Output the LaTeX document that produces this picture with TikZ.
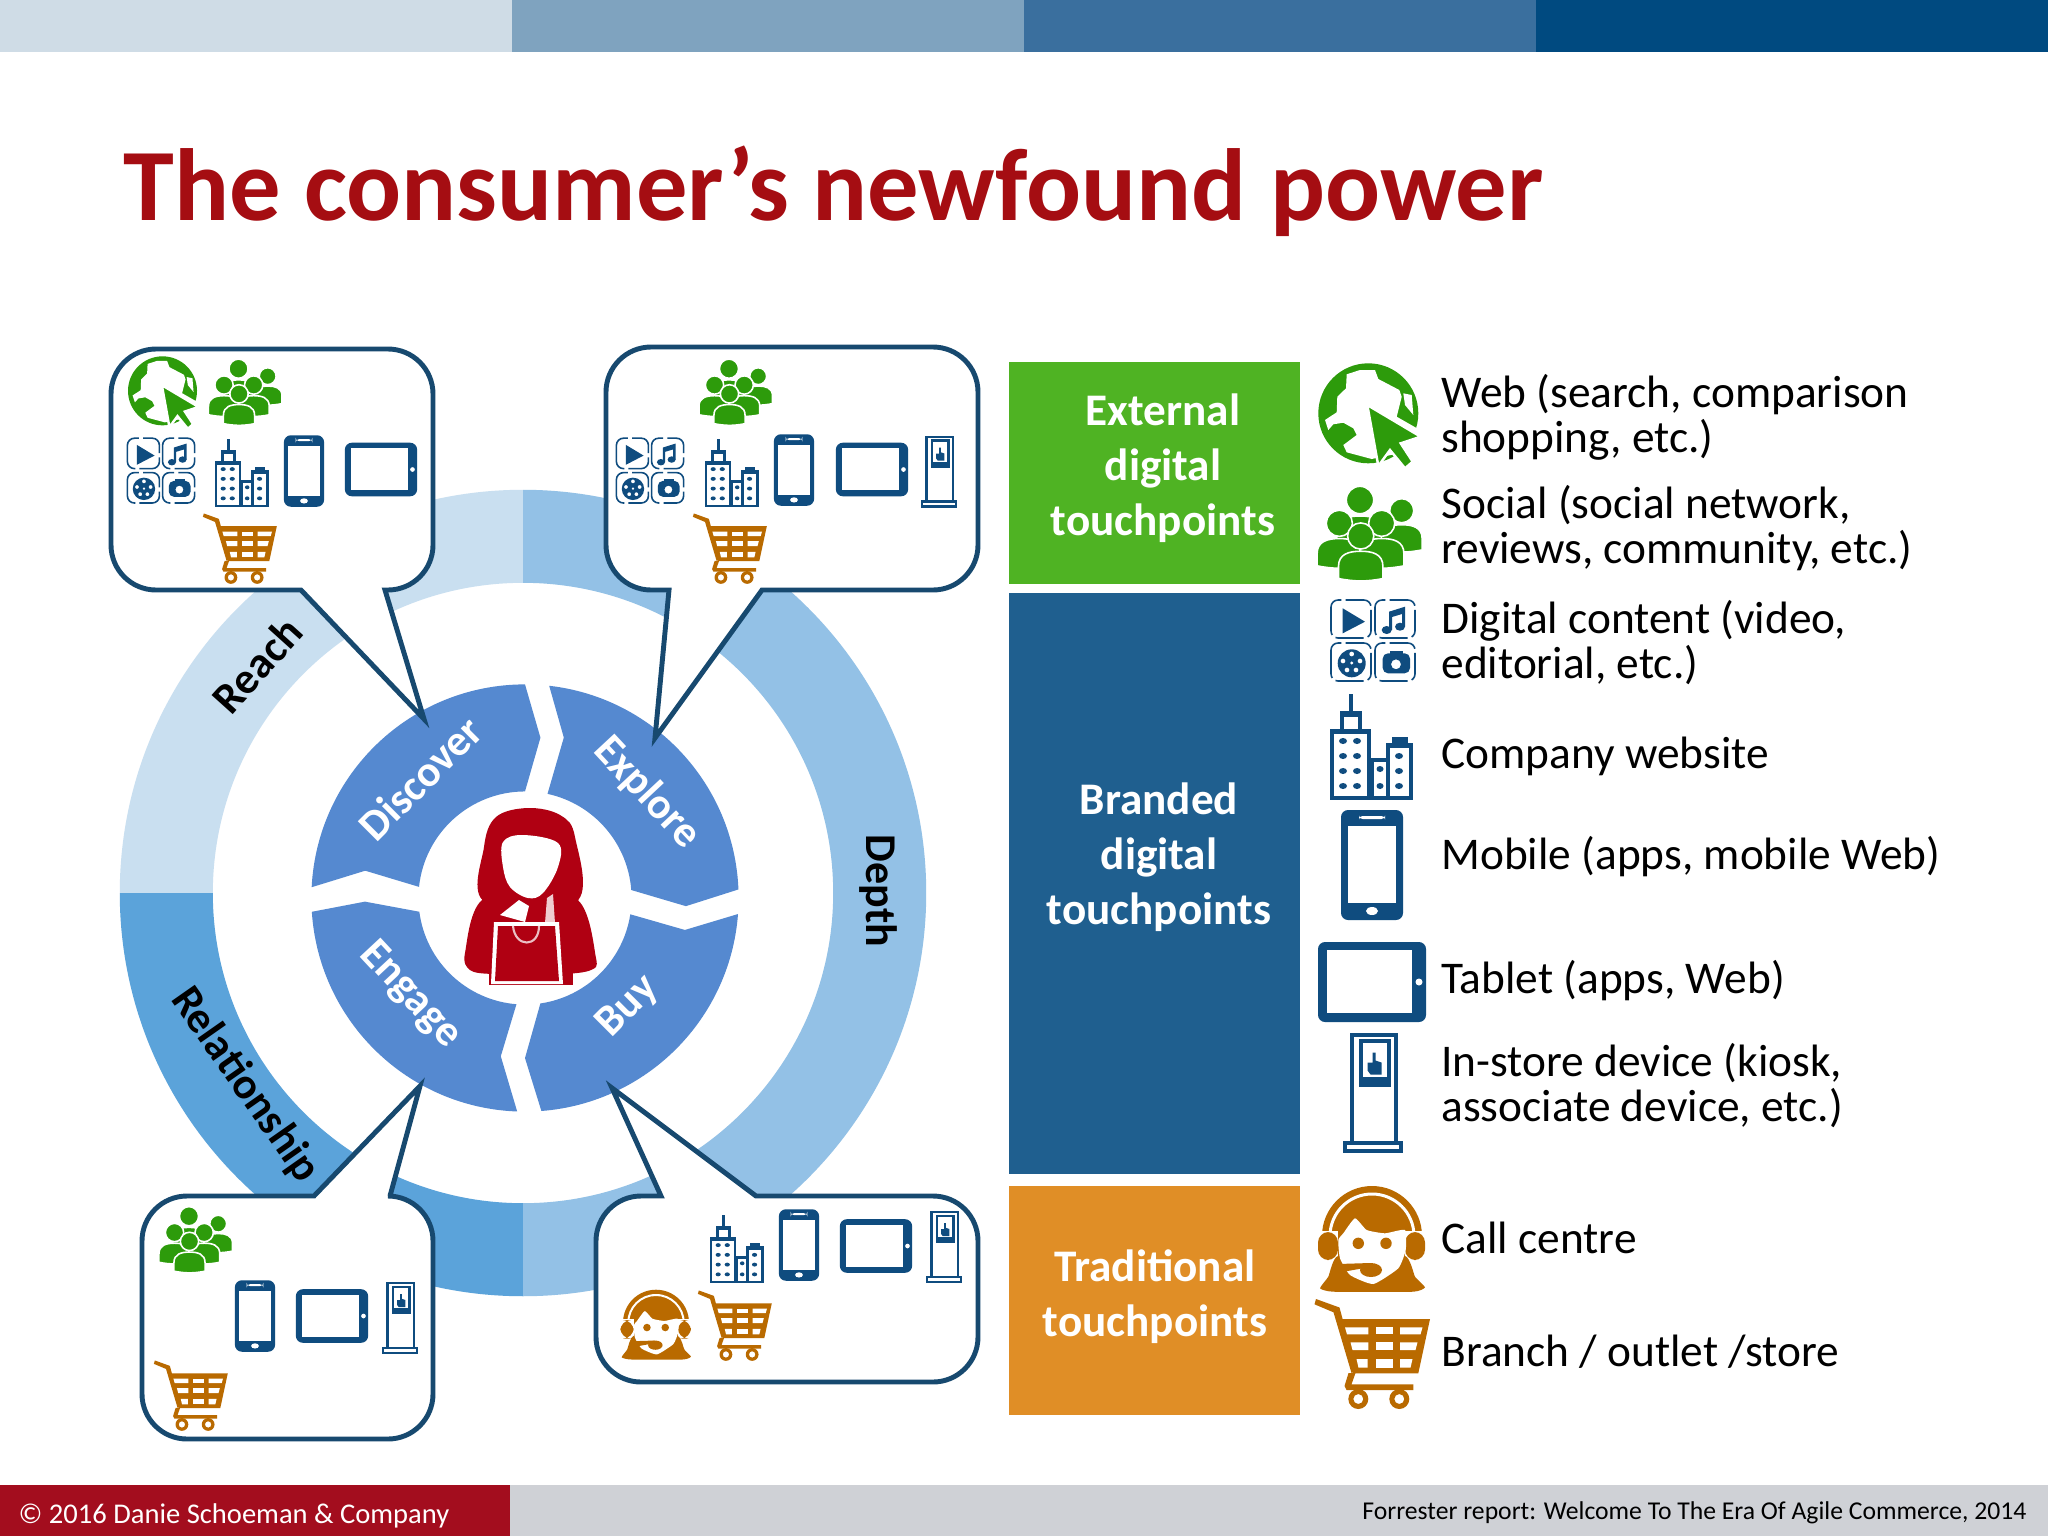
\documentclass[tikz,border=0pt]{standalone}
\usepackage{fontspec}
\usepackage{tikz}
\setmainfont{Carlito}
\definecolor{barA}{HTML}{CFDCE6}
\definecolor{barB}{HTML}{7FA3BF}
\definecolor{barC}{HTML}{3A6F9E}
\definecolor{barD}{HTML}{004A80}
\definecolor{titlered}{HTML}{A50D12}
\definecolor{footred}{HTML}{A30D1E}
\definecolor{footgrey}{HTML}{CFD1D6}
\definecolor{reachblue}{HTML}{C9DFF0}
\definecolor{depthblue}{HTML}{93C1E6}
\definecolor{relblue}{HTML}{5BA3DA}
\definecolor{segblue}{HTML}{5589D0}
\definecolor{edgeblue}{HTML}{17496F}
\definecolor{extgreen}{HTML}{4FB323}
\definecolor{brandblue}{HTML}{1F5F8F}
\definecolor{tradorange}{HTML}{E08E26}
\definecolor{icongreen}{HTML}{2D9B0B}
\definecolor{iconblue}{HTML}{0F4C7F}
\definecolor{iconorange}{HTML}{B96A00}
\definecolor{womanred}{HTML}{B00012}
\newcommand{\guy}[3]{
\begin{scope}[shift={(#1,#2)},scale=#3]
\fill[icongreen,draw=white,line width=.45pt] (-1.75,3.35) -- (-1.75,2.4) .. controls (-1.75,1.4) and (-.9,1.2) .. (0,1.2) .. controls (.9,1.2) and (1.75,1.4) .. (1.75,2.4) -- (1.75,3.35) .. controls (.5,3.6) and (-.5,3.6) .. cycle;
\fill[icongreen,draw=white,line width=.45pt] (0,0) circle (1.03);
\end{scope}
}
\tikzset{
bubble/.style={draw=edgeblue,fill=white,line width=1.4pt,line join=miter},
sidetext/.style={anchor=west,align=left,font=\fontsize{12.9}{12.8}\selectfont},
boxtext/.style={align=center,text=white,font=\bfseries\fontsize{12.85}{15.6}\selectfont},
segtext/.style={text=white,font=\bfseries\fontsize{12.4}{14}\selectfont},
ringtext/.style={text=black,font=\bfseries\fontsize{12.5}{14}\selectfont},
globe/.pic={
\fill[icongreen] (-.7,-1.7) circle (50);
\fill[white] (-22.3,-40.7) -- (-9,-45) -- (6,-45) -- (9.3,-36) -- (30.3,-25) -- (32.7,-18.3) -- (27.7,1.7) -- (51,15) -- (37.7,36.7) -- (2.7,44) -- (-22.3,37.3) -- (-25.7,30) -- (-12.3,20) -- (-15.7,13.3) -- (-25.7,7.7) -- (-35.7,9.3) -- (-40.7,15) -- (-44,5) -- (-32.3,-2.7) -- (-31.7,-18.3) -- (-23,-26.7) -- cycle;
\fill[white] (34.3,-21.7) -- (42.7,-20) -- (44.3,0) -- (36,-10) -- cycle;
\fill[icongreen,draw=white,line width=.7pt] (-1.7,-10) -- (51.7,21.7) -- (31.7,28.3) -- (43.7,46.7) -- (36,53.3) -- (21,35) -- (9.3,51) -- cycle;
},
social/.pic={
\guy{-10}{-34}{13.3}
\guy{31.7}{-23.3}{11.7}
\guy{-30.7}{-10.7}{12.7}
\guy{11.7}{-10.7}{12.7}
\guy{-9.3}{2}{12.7}
},
content/.pic={
\foreach \tx/\ty in {-22/-22,22/-22,-22/21,22/21}
\draw[iconblue,line width=.45pt,dash pattern=on 8pt off 1.2pt,rounded corners=2pt] ({\tx-20},{\ty-19}) rectangle ({\tx+20},{\ty+19});
\fill[iconblue] (-30.3,-32.7) -- (-8,-19.3) -- (-30.3,-7.7) -- cycle;
\fill[iconblue] (13.7,-11) ellipse (5 and 4) (27,-14.3) ellipse (5 and 4);
\fill[iconblue] (16,-11) -- (16,-29.3) -- (32,-34.3) -- (32,-14.3) -- (29,-14.3) -- (29,-27) -- (19,-24) -- (19,-11) -- cycle;
\fill[iconblue,even odd rule] (-21.3,22.3) circle (14) (-21.3,13) circle (2.5) (-21.3,22) circle (1.8) (-30,20) circle (2.5) (-13,20) circle (2.5) (-26,29) circle (2.5) (-17,29) circle (2.5);
\fill[iconblue,even odd rule,rounded corners=1.5pt] (9.7,12.3) rectangle (37,32.3) (23,23.3) circle (5);
\fill[iconblue] (17,10) rectangle (30,13);
},
company/.pic={
\fill[iconblue] (-23,-53) rectangle (-19,-34);
\fill[iconblue] (-32,-36) rectangle (-10,-16);
\fill[white] (-28,-30) rectangle (-14,-17);
\fill[iconblue] (-42,-18) rectangle (-1,53);
\fill[white] (-38,-13) rectangle (-5,49);
\fill[iconblue] (-2,11) rectangle (18,53);
\fill[white] (2,15) rectangle (14,49);
\fill[iconblue] (14,-4) rectangle (41,53);
\fill[iconblue] (20,-10) rectangle (36,-3);
\fill[white] (18,1) rectangle (37,49);
\foreach \wy in {-6,9,24,39} \fill[iconblue] (-29,\wy) ellipse (4 and 3) (-15,\wy) ellipse (4 and 3);
\foreach \wy in {22,39} \fill[iconblue] (8,\wy) ellipse (3.5 and 3);
\foreach \wy in {9,24,39} \fill[iconblue] (27,\wy) ellipse (4 and 3);
},
mobile/.pic={
\fill[iconblue,rounded corners=2pt] (-31,-55) rectangle (31,55);
\fill[white] (-24,-39) rectangle (24,38);
\fill[white,rounded corners=1pt] (-13,-49) rectangle (13,-46);
\fill[white] (0,46) ellipse (6 and 4);
},
tablet/.pic={
\fill[iconblue,rounded corners=2pt] (-54,-40) rectangle (54,40);
\fill[white] (-45,-32) rectangle (40,31);
\fill[white] (47,0) ellipse (3.5 and 3.5);
},
kiosk/.pic={
\fill[iconblue] (-23,-60) rectangle (25,50);
\fill[white] (-19,-56) rectangle (21,50);
\fill[iconblue] (-14,-54) rectangle (18,-6);
\fill[white] (-10,-50) rectangle (14,-16);
\fill[iconblue] (-5,-22) -- (-5,-30) -- (0,-30) -- (0,-40) -- (3,-40) -- (3,-32) -- (9,-30) -- (9,-18) -- (-2,-18) -- cycle;
\fill[iconblue] (-30,48) rectangle (30,60);
\fill[white] (-26,52) rectangle (26,56);
},
callgirl/.pic={
\fill[iconorange] (0,-5) circle (50);
\fill[white,even odd rule] (0,-5) circle (43.5) (0,-5) circle (40.5);
\fill[white] (-56,-10) rectangle (56,50);
\fill[iconorange] (-34,-12) rectangle (33,20);
\fill[iconorange,rounded corners=3pt] (-54,-9) rectangle (-34,19);
\fill[iconorange,rounded corners=3pt] (53,-9) rectangle (33,19);
\fill[iconorange] plot[smooth cycle,tension=.25] coordinates {(-34,15)(-43.7,35.7)(-52,47.3)(-38.7,50.7)(41.3,50.7)(53,46.3)(43,35.7)(33,15)};
\fill[white] plot[smooth cycle,tension=.3] coordinates {(-33.7,-1)(-28.7,-7.7)(-17,-22.7)(-5.3,-11)(13,-7.7)(33,-11)(33.7,9)(26.3,27.3)(1.3,43)(-22,34)(-32,17.3)};
\fill[iconorange] (-13.7,2.3) circle (5.7) (14,2.3) circle (5.7);
\fill[iconorange] (-34,23) -- (-2,22) -- (-2,26) -- (-30,31) -- cycle;
\fill[iconorange] (-1,29) ellipse (11 and 7);
},
cart/.pic={
\fill[iconorange] (-56.5,-54) -- (-33,-45.5) -- (-16,18) -- (-21,20) -- (-39,-40.7) -- (-58,-48.7) -- cycle;
\fill[iconorange] (-34.2,-34) -- (57.5,-34) -- (45.8,20.3) -- (-19.2,20.3) -- cycle;
\fill[white] (-27.5,-25.7) -- (-4.2,-25.7) -- (-4.2,-18.7) -- (-25.5,-18.7) -- cycle;
\fill[white] (27.5,-25.7) -- (50,-25.7) -- (48,-18.7) -- (27.5,-18.7) -- cycle;
\fill[white] (-22,-10.7) -- (-4.2,-10.7) -- (-4.2,-3) -- (-20,-3) -- cycle;
\fill[white] (27.5,-10.7) -- (45,-10.7) -- (43,-3) -- (27.5,-3) -- cycle;
\fill[white] (-16,6) -- (-5,6) -- (-5,14.7) -- (-14,14.7) -- cycle;
\fill[white] (27.5,6) -- (40,6) -- (38,14.7) -- (27.5,14.7) -- cycle;
\foreach \ya/\yb in {-25.7/-18.7,-10.7/-3,6/14.7} \fill[white] (3,\ya) rectangle (20.2,\yb);
\fill[iconorange] (-24,20) -- (-17,20) -- (-21,31.3) -- (40.8,31.3) -- (40.8,37) -- (-26,37) -- (-28,33) -- cycle;
\fill[iconorange,even odd rule] (-14.2,46) circle (10) (-14.2,46) circle (5);
\fill[iconorange,even odd rule] (26.8,46) circle (10) (26.8,46) circle (5);
}
}
\begin{document}
\begin{tikzpicture}[x=0.01cm,y=-0.01cm]
\useasboundingbox (0,0) rectangle (2048,1536);
\fill[white] (0,0) rectangle (2048,1536);
\fill[barA] (0,0) rectangle (512,52);
\fill[barB] (512,0) rectangle (1024,52);
\fill[barC] (1024,0) rectangle (1536,52);
\fill[barD] (1536,0) rectangle (2048,52);
\node[anchor=base west,inner sep=0pt,text=titlered,font=\bfseries\fontsize{29.16}{34}\selectfont] (title) at (123,220) {The consumer’s newfound power};

\begin{scope}[shift={(523,893)},x=1cm,y=1cm]
\fill[reachblue] (90:4.03) arc[start angle=90,end angle=180,radius=4.03] -- (180:3.10) arc[start angle=180,end angle=90,radius=3.10] -- cycle;
\fill[relblue] (180:4.03) arc[start angle=180,end angle=270,radius=4.03] -- (270:3.10) arc[start angle=270,end angle=180,radius=3.10] -- cycle;
\fill[depthblue] (270:4.03) arc[start angle=270,end angle=450,radius=4.03] -- (450:3.10) arc[start angle=450,end angle=270,radius=3.10] -- cycle;
\end{scope}

\begin{scope}[shift={(525,898)},x=1cm,y=1cm]
\fill[segblue] (177.1:2.135) arc[start angle=177.1,end angle=90,radius=2.135] -- (84.5:1.61) -- (90:1.065) arc[start angle=90,end angle=174,radius=1.065] -- (170.3:1.62) -- cycle;
\fill[segblue] (83.5:2.135) arc[start angle=83.5,end angle=2.3,radius=2.135] -- (-2.9:1.61) -- (4.3:1.065) arc[start angle=4.3,end angle=77.8,radius=1.065] -- (76.4:1.65) -- cycle;
\fill[segblue] (-4.3:2.135) arc[start angle=-4.3,end angle=-85.6,radius=2.135] -- (-90:1.6) -- (-81.7:1.065) arc[start angle=-81.7,end angle=-8.8,radius=1.065] -- (-11.3:1.63) -- cycle;
\fill[segblue] (267.9:2.135) arc[start angle=267.9,end angle=183.7,radius=2.135] -- (181.3:1.6) -- (187.4:1.065) arc[start angle=187.4,end angle=265.4,radius=1.065] -- (261.3:1.6) -- cycle;
\end{scope}

\begin{scope}[shift={(525,898)}]
\fill[womanred] plot[smooth cycle,tension=.6] coordinates {(-40,4)(-41,-51)(-29,-81)(3,-90)(35,-83)(50,-61)(51,4)};
\fill[womanred] plot[smooth cycle,tension=.5] coordinates {(-40,0)(-60,55)(-55,72)(-32,76)(38,76)(66,72)(71,60)(50,0)};
\fill[womanred] (-36,75) rectangle (48,87);
\fill[white] plot[smooth cycle,tension=.6] coordinates {(-22,-56)(-2,-63)(33,-55)(33,-31)(18,-5)(3,0)(-15,-11)(-22,-31)};
\fill[white] (-25,17) -- (-6,2) -- (4,8) -- (0,24) -- cycle;
\fill[white!80!womanred] (20,25) -- (22,0) -- (28,-4) -- (30,25) -- cycle;
\fill[white] (-31,24) -- (34,24) -- (38,86) -- (-34,86) -- cycle;
\fill[womanred] (-27,28) -- (30,28) -- (34,83) -- (-30,83) -- cycle;
\draw[white!75!womanred,line width=.6pt] (-12,28) .. controls (-10,50) and (14,50) .. (14,28);
\end{scope}

\draw[bubble] (301,590) [rounded corners=.45cm] -- (111,590) -- (111,349) -- (433,349) -- (433,590) [sharp corners] -- (385,590) -- (424,719) -- cycle;
\draw[bubble] (669,590) [rounded corners=.45cm] -- (606,590) -- (606,347) -- (978,347) -- (978,590) [sharp corners] -- (762,590) -- (655,738) -- cycle;
\draw[bubble] (314,1196) [rounded corners=.45cm] -- (142,1196) -- (142,1439) -- (433,1439) -- (433,1196) [sharp corners] -- (390,1196) -- (420,1086) -- cycle;
\draw[bubble] (661,1196) [rounded corners=.45cm] -- (596,1196) -- (596,1382) -- (978,1382) -- (978,1196) [sharp corners] -- (756,1196) -- (612,1088) -- cycle;

\pic[scale=.69] at (163,392) {globe};
\pic[scale=.7] at (245.5,392.5) {social};
\pic[scale=.8] at (161,471) {content};
\pic[scale=.65] at (242,473) {company};
\pic[scale=.65] at (304,471) {mobile};
\pic[scale=.67] at (381,469.5) {tablet};
\pic[scale=.64] at (240,548) {cart};

\pic[scale=.7] at (736,392.5) {social};
\pic[scale=.8] at (650,471) {content};
\pic[scale=.65] at (732,473) {company};
\pic[scale=.65] at (794,470) {mobile};
\pic[scale=.67] at (872,469.5) {tablet};
\pic[scale=.6] at (939,471.5) {kiosk};
\pic[scale=.64] at (730,548) {cart};

\pic[scale=.7] at (196,1240) {social};
\pic[scale=.65] at (255,1316) {mobile};
\pic[scale=.67] at (332,1316) {tablet};
\pic[scale=.6] at (400,1318) {kiosk};
\pic[scale=.64] at (191,1395) {cart};

\pic[scale=.65] at (737,1249) {company};
\pic[scale=.65] at (799,1245) {mobile};
\pic[scale=.67] at (876,1246) {tablet};
\pic[scale=.6] at (944,1247) {kiosk};
\pic[scale=.66] at (656,1326) {callgirl};
\pic[scale=.64] at (735,1325) {cart};

\node[segtext,rotate=45] (discover) at (420,778) {Discover};
\node[segtext,rotate=-47] (explore) at (647,793) {Explore};
\node[segtext,rotate=45] (buy) at (628,1007) {Buy};
\node[segtext,rotate=-47] (engage) at (410,995) {Engage};
\node[ringtext,rotate=48] (reach) at (257,665) {Reach};
\node[ringtext,rotate=-55] (relationship) at (245,1085) {Relationship};
\node[ringtext,rotate=-90] (depth) at (878,891) {Depth};

\fill[extgreen] (1009,362) rectangle (1300,584);
\fill[brandblue] (1009,593) rectangle (1300,1174);
\fill[tradorange] (1009,1186) rectangle (1300,1415);
\node[boxtext] (external) at (1163,468) {External\\digital\\touchpoints};
\node[boxtext] (branded) at (1159,857) {Branded\\digital\\touchpoints};
\node[boxtext] (traditional) at (1155,1297) {Traditional\\touchpoints};

\pic at (1369,415) {globe};
\pic at (1370,534) {social};
\pic at (1373,641) {content};
\pic at (1372,747) {company};
\pic at (1372,865) {mobile};
\pic at (1372,982) {tablet};
\pic at (1372.5,1092.5) {kiosk};
\pic at (1372,1241) {callgirl};
\pic at (1372.5,1353) {cart};

\node[sidetext] (web) at (1429,417) {Web (search, comparison\\shopping, etc.)};
\node[sidetext] (socialtext) at (1429,528) {Social (social network,\\reviews, community, etc.)};
\node[sidetext] (digitaltext) at (1429,643) {Digital content (video,\\editorial, etc.)};
\node[sidetext] (website) at (1429,756) {Company website};
\node[sidetext] (mobiletext) at (1429,857) {Mobile (apps, mobile Web)};
\node[sidetext] (tablettext) at (1429,981) {Tablet (apps, Web)};
\node[sidetext] (instore) at (1429,1086) {In-store device (kiosk,\\associate device, etc.)};
\node[sidetext] (callcentre) at (1429,1238) {Call centre};
\node[sidetext] (branch) at (1429,1352) {Branch / outlet /store};

\fill[footred] (0,1485) rectangle (510,1536);
\fill[footgrey] (510,1485) rectangle (2048,1536);
\node[anchor=west,inner sep=0pt,text=white,font=\fontsize{8.12}{10}\selectfont] (copyright) at (18,1516) {© 2016 Danie Schoeman \& Company};
\node[anchor=east,inner sep=0pt,text=black,font=\fontsize{7.3}{9}\selectfont] (source) at (2027,1513) {Forrester report: Welcome To The Era Of Agile Commerce, 2014};
\end{tikzpicture}
\end{document}
